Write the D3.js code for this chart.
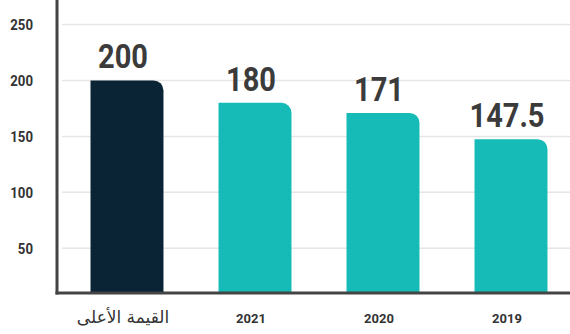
<!DOCTYPE html>
<html>
<head>
<meta charset="utf-8">
<script src="https://cdn.jsdelivr.net/npm/d3@7"></script>
<style>
  body { margin: 0; background: #fff; }
  svg { display: block; }
</style>
</head>
<body>
<div id="chart"></div>
<script>
// values
var categories = ["القيمة الأعلى", "2021", "2020", "2019"]
var values = [200, 180, 171, 147.5]
var valueLabels = ["200", "180", "171", "147.5"]
var yTicks = [50, 100, 150, 200, 250]

var width = 570, height = 334
var axisX = 57, axisY = 293
var squeeze = 0.88 // fake a condensed face

var svg = d3.select("#chart").append("svg")
    .attr("width", width)
    .attr("height", height)

var x = d3.scaleBand()
    .domain(categories)
    .range([63, 575])
    .paddingInner(0.43)
    .paddingOuter(0.215)

var y = d3.scaleLinear()
    .domain([10, 250])
    .range([axisY, 24.5])

// gridlines
svg.append("g")
  .selectAll("line")
  .data(yTicks)
  .join("line")
    .attr("x1", 62)
    .attr("x2", width)
    .attr("y1", d => y(d))
    .attr("y2", d => y(d))
    .attr("stroke", "#e6e6e6")
    .attr("stroke-width", 1.5)

// tick labels
svg.append("g")
    .attr("font-family", "Roboto, sans-serif")
    .attr("font-weight", 700)
    .attr("font-size", 15)
    .attr("fill", "#333")
    .attr("text-anchor", "end")
  .selectAll("text")
  .data(yTicks)
  .join("text")
    .attr("transform", d => `translate(33,${y(d)}) scale(${squeeze},1)`)
    .attr("dy", "0.35em")
    .text(d => d)

// bars, rounded top-right corner only
var r = 10
function barPath(d, i) {
  var x0 = x(categories[i]), w = x.bandwidth()
  var top = y(d), bottom = axisY
  return "M" + x0 + "," + bottom +
    "V" + top +
    "H" + (x0 + w - r) +
    "A" + r + "," + r + " 0 0 1 " + (x0 + w) + "," + (top + r) +
    "V" + bottom + "Z"
}

svg.append("g")
  .selectAll("path")
  .data(values)
  .join("path")
    .attr("d", barPath)
    .attr("fill", (d, i) => i == 0 ? "#0a2436" : "#16bab6")

// value labels
svg.append("g")
    .attr("font-family", "Roboto, sans-serif")
    .attr("font-weight", 700)
    .attr("font-size", 33)
    .attr("fill", "#3b3b3b")
    .attr("text-anchor", "middle")
  .selectAll("text")
  .data(values)
  .join("text")
    .attr("transform", (d, i) => `translate(${x(categories[i]) + x.bandwidth() / 2 - 4},${y(d) - 12}) scale(${squeeze},1)`)
    .text((d, i) => valueLabels[i])

// category labels
svg.append("g")
    .attr("fill", "#333")
    .attr("text-anchor", "middle")
  .selectAll("text")
  .data(categories)
  .join("text")
    .attr("x", d => x(d) + x.bandwidth() / 2 - 4)
    .attr("y", 323)
    .attr("font-family", (d, i) => i == 0 ? "'DejaVu Sans', sans-serif" : "Roboto, sans-serif")
    .attr("font-weight", (d, i) => i == 0 ? 400 : 700)
    .attr("font-size", (d, i) => i == 0 ? 17 : 13)
    .text(d => d)

// axes lines
svg.append("line")
    .attr("x1", axisX).attr("x2", axisX)
    .attr("y1", 0).attr("y2", axisY + 1.5)
    .attr("stroke", "#444")
    .attr("stroke-width", 3)

svg.append("line")
    .attr("x1", axisX - 1.5).attr("x2", width)
    .attr("y1", axisY).attr("y2", axisY)
    .attr("stroke", "#444")
    .attr("stroke-width", 3)
</script>
</body>
</html>
